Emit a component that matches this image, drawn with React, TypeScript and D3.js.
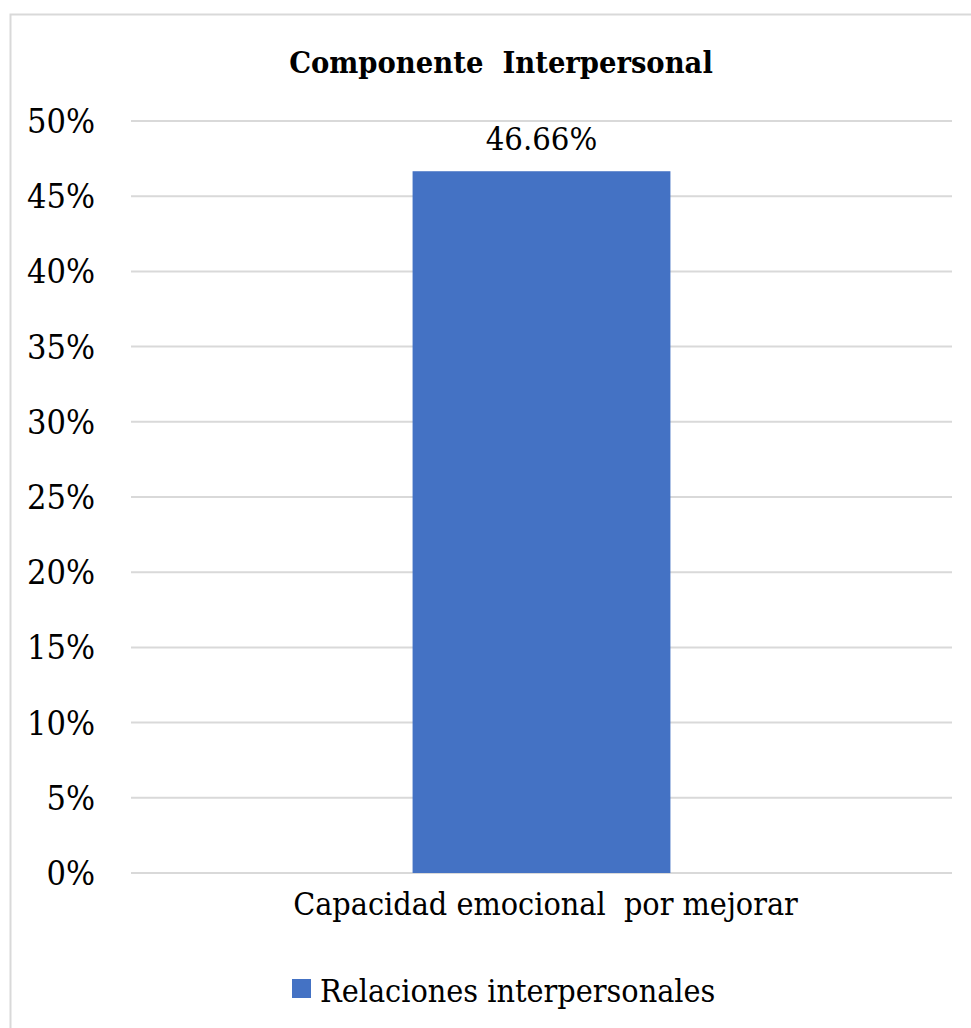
import React from "react";
import * as d3 from "d3";

const title = "Componente  Interpersonal";
const categories = ["Capacidad emocional  por mejorar"];
const values = [0.4666];
const valueLabels = ["46.66%"];
const seriesName = "Relaciones interpersonales";
const yTicks = [0, 0.05, 0.1, 0.15, 0.2, 0.25, 0.3, 0.35, 0.4, 0.45, 0.5];

const W = 971;
const H = 1028;
const margin = { top: 121, right: 19, bottom: 155, left: 131 };
const font = "'DejaVu Serif Condensed', 'DejaVu Serif', serif";
const barColor = "#4472C4";
const gridColor = "#d9d9d9";

export default function App() {
  const xScale = d3
    .scaleBand<string>()
    .domain(categories)
    .range([margin.left, W - margin.right])
    .paddingInner(0.522)
    .paddingOuter(0.522);
  const yScale = d3
    .scaleLinear()
    .domain([0, 0.5])
    .range([H - margin.bottom, margin.top]);
  const fmt = d3.format(".0%");

  return (
    <svg
      width={W}
      height={H}
      style={{ position: "absolute", left: 0, top: 0, background: "#fff", fontFamily: font, fontStretch: "condensed" }}
    >
      <rect x={10.5} y={14.5} width={W + 20} height={H + 20} fill="#fff" stroke={gridColor} strokeWidth={2} />
      <text x={501} y={73} textAnchor="middle" fontSize={30.5} fontWeight="bold" fill="#000" style={{ whiteSpace: "pre" }}>
        {title}
      </text>
      {yTicks.map((t) => (
        <g key={t}>
          <line
            x1={margin.left}
            x2={W - margin.right}
            y1={yScale(t)}
            y2={yScale(t)}
            stroke={gridColor}
            strokeWidth={2}
          />
          <text x={95} y={yScale(t) + 12} textAnchor="end" fontSize={34} fill="#000">
            {fmt(t)}
          </text>
        </g>
      ))}
      {categories.map((c, i) => (
        <g key={c}>
          <rect
            x={xScale(c)}
            y={yScale(values[i])}
            width={xScale.bandwidth()}
            height={yScale(0) - yScale(values[i])}
            fill={barColor}
          />
          <text
            x={(xScale(c) as number) + xScale.bandwidth() / 2}
            y={yScale(values[i]) - 21}
            textAnchor="middle"
            fontSize={32.5}
            fill="#000"
          >
            {valueLabels[i]}
          </text>
          <text
            x={(xScale(c) as number) + xScale.bandwidth() / 2 + 4}
            y={915}
            textAnchor="middle"
            fontSize={32}
            fill="#000"
            style={{ whiteSpace: "pre" }}
          >
            {c}
          </text>
        </g>
      ))}
      <rect x={292} y={979} width={19} height={19} fill={barColor} />
      <text x={320} y={1002} fontSize={32} fill="#000">
        {seriesName}
      </text>
    </svg>
  );
}
